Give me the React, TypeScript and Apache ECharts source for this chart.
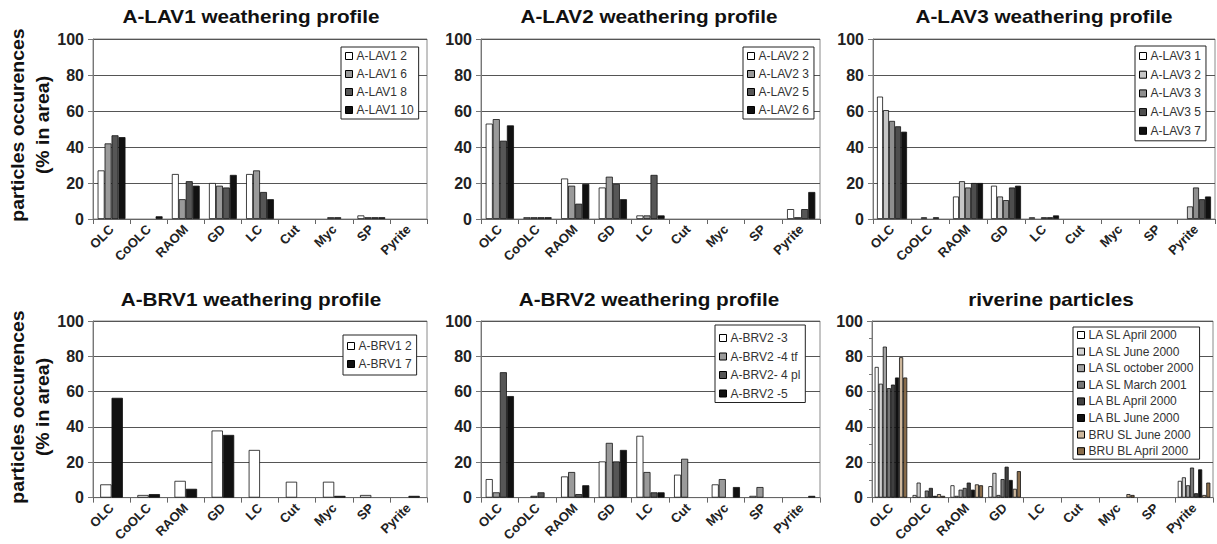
import React, { useEffect, useRef } from 'react';
import * as echarts from 'echarts';

const categories = ['OLC', 'CoOLC', 'RAOM', 'GD', 'LC', 'Cut', 'Myc', 'SP', 'Pyrite'];
const yMin = 0;
const yMax = 100;
const yStep = 20;

const titles = [
  'A-LAV1 weathering profile',
  'A-LAV2 weathering profile',
  'A-LAV3 weathering profile',
  'A-BRV1 weathering profile',
  'A-BRV2 weathering profile',
  'riverine particles',
];
const yAxisName = 'particles occurences\n(% in area)';

// A-LAV1
const lav1Names = ['A-LAV1 2', 'A-LAV1 6', 'A-LAV1 8', 'A-LAV1 10'];
const lav1_2 = [27, 0, 25, 20, 25, 0, 0, 2, 0];
const lav1_6 = [42, 0, 11, 18.5, 27, 0, 1, 1, 0];
const lav1_8 = [46.5, 0, 21, 17.5, 15, 0, 1, 1, 0];
const lav1_10 = [45.5, 1.5, 18.5, 24.5, 11, 0, 0, 1, 0];

// A-LAV2
const lav2Names = ['A-LAV2 2', 'A-LAV2 3', 'A-LAV2 5', 'A-LAV2 6'];
const lav2_2 = [53, 1, 22.5, 17.5, 2, 0, 0, 0, 5.5];
const lav2_3 = [55.5, 1, 18.5, 23.5, 2, 0, 0, 0, 1];
const lav2_5 = [43.5, 1, 8.5, 19.5, 24.5, 0, 0, 0, 5.5];
const lav2_6 = [52, 1, 19.5, 11, 2, 0, 0, 0, 15];

// A-LAV3
const lav3Names = ['A-LAV3 1', 'A-LAV3 2', 'A-LAV3 3', 'A-LAV3 5', 'A-LAV3 7'];
const lav3_1 = [68, 0, 12.5, 18.5, 1, 0, 0, 0, 0];
const lav3_2 = [60.5, 1, 21, 12.5, 0, 0, 0, 0, 7];
const lav3_3 = [54.5, 0, 17.5, 10.5, 1, 0, 0, 0, 17.5];
const lav3_5 = [51.5, 1, 20, 17.5, 1, 0, 0, 0, 11];
const lav3_7 = [48.5, 0, 20, 18.5, 2, 0, 0, 0, 12.5];

// A-BRV1
const brv1Names = ['A-BRV1 2', 'A-BRV1 7'];
const brv1_2 = [7.5, 1.5, 9.5, 38, 27, 9, 9, 1.5, 0];
const brv1_7 = [56.5, 2, 5, 35.5, 0, 0, 1, 0, 1];

// A-BRV2
const brv2Names = ['A-BRV2 -3', 'A-BRV2 -4 tf', 'A-BRV2- 4 pl', 'A-BRV2 -5'];
const brv2_3 = [10.5, 0, 12, 20.5, 35, 13, 7.5, 1, 0];
const brv2_4tf = [3, 1, 14.5, 31, 14.5, 22, 10.5, 6, 0];
const brv2_4pl = [71, 3, 2, 20.5, 3, 0, 0, 0, 0];
const brv2_5 = [57.5, 0, 7, 27, 3, 0, 6, 0, 1];

// riverine particles
const rivNames = [
  'LA SL April 2000',
  'LA SL June 2000',
  'LA SL october 2000',
  'LA SL March 2001',
  'LA BL April 2000',
  'LA BL June 2000',
  'BRU SL June 2000',
  'BRU BL April 2000',
];
const riv_slApr00 = [74, 1.5, 7, 6.5, 0, 0, 0, 0, 9.5];
const riv_slJun00 = [64.5, 8.5, 1, 14, 0, 0, 0, 0, 11.5];
const riv_slOct00 = [85.5, 0, 4.5, 1.5, 0, 0, 0, 0, 7];
const riv_slMar01 = [62, 4, 5.5, 10.5, 0, 0, 0, 0, 17];
const riv_blApr00 = [64, 5.5, 8.5, 17.5, 0, 0, 0, 0, 2.5];
const riv_blJun00 = [68, 1, 4.5, 10, 0, 0, 0, 0, 16];
const riv_bruSlJun00 = [79.5, 2, 7.5, 5, 0, 0, 2, 0, 1.5];
const riv_bruBlApr00 = [68, 1, 7, 15, 0, 0, 1.5, 0, 8.5];

const panelNames = [lav1Names, lav2Names, lav3Names, brv1Names, brv2Names, rivNames];
const panelValues = [
  [lav1_2, lav1_6, lav1_8, lav1_10],
  [lav2_2, lav2_3, lav2_5, lav2_6],
  [lav3_1, lav3_2, lav3_3, lav3_5, lav3_7],
  [brv1_2, brv1_7],
  [brv2_3, brv2_4tf, brv2_4pl, brv2_5],
  [riv_slApr00, riv_slJun00, riv_slOct00, riv_slMar01, riv_blApr00, riv_blJun00, riv_bruSlJun00, riv_bruBlApr00],
];

// styles
const gray4 = ['#ffffff', '#9a9a9a', '#565656', '#111111'];
const gray5 = ['#ffffff', '#c6c6c6', '#8e8e8e', '#4e4e4e', '#111111'];
const gray2 = ['#ffffff', '#111111'];
const rivColors = ['#ffffff', '#d2d2d2', '#a2a2a2', '#767676', '#404040', '#111111', '#cdb79c', '#8a6d4b'];
const panelColors = [gray4, gray4, gray5, gray2, gray4, rivColors];

const FONT = '"Liberation Sans", Arial, Helvetica, sans-serif';

const layout = [
  { grid: { left: 93, top: 39, width: 334, height: 180 }, tx: 251, ty: 17, lg: { left: 341, top: 47, itemGap: 6, padding: [3, 5, 3, 4] } },
  { grid: { left: 481, top: 39, width: 339, height: 180 }, tx: 649, ty: 17, lg: { left: 743, top: 47, itemGap: 6, padding: [3, 5, 3, 4] } },
  { grid: { left: 873, top: 39, width: 342, height: 180 }, tx: 1044, ty: 17, lg: { left: 1135, top: 46, itemGap: 6.7, padding: [4, 5, 4, 4] } },
  { grid: { left: 93, top: 321, width: 334, height: 180 }, tx: 251, ty: 300, lg: { left: 343, top: 335, itemGap: 6, padding: [5, 5, 5, 4] } },
  { grid: { left: 481, top: 321, width: 339, height: 180 }, tx: 649, ty: 300, lg: { left: 715, top: 325, itemGap: 6.5, padding: [7, 5, 3, 4] } },
  { grid: { left: 872, top: 321, width: 341, height: 180 }, tx: 1051, ty: 300, lg: { left: 1073, top: 327, itemGap: 4.6, padding: [2, 5, 2, 4] } },
];

function buildOption() {
  const grid: any[] = [];
  const xAxis: any[] = [];
  const yAxis: any[] = [];
  const legend: any[] = [];
  const series: any[] = [];
  const graphic: any[] = [];

  layout.forEach((L, i) => {
    grid.push({ ...L.grid, show: true, borderColor: '#8a8a8a', borderWidth: 1, backgroundColor: 'transparent' });
    xAxis.push({
      type: 'category',
      gridIndex: i,
      data: categories,
      axisLine: { lineStyle: { color: '#666', width: 1 } },
      axisTick: { show: true, length: 5, lineStyle: { color: '#666' } },
      axisLabel: { rotate: 45, interval: 0, fontSize: 13, fontWeight: 'bold', color: '#222', fontFamily: FONT, margin: 8 },
    });
    yAxis.push({
      type: 'value',
      gridIndex: i,
      min: yMin,
      max: yMax,
      interval: yStep,
      axisLine: { show: true, lineStyle: { color: '#777' } },
      axisTick: { show: true, length: 5, lineStyle: { color: '#777' } },
      minorTick: i === 5 ? { show: true, splitNumber: 2, length: 3, lineStyle: { color: '#777' } } : { show: false },
      splitLine: { show: true, lineStyle: { color: '#555', width: 1 } },
      axisLabel: { fontSize: 16, fontWeight: 'bold', color: '#222', fontFamily: FONT, margin: 9 },
    });
    const names = panelNames[i];
    const n = names.length;
    const gapPct = Math.round((1.3 / (n + 1.3)) * 100) + '%';
    legend.push({
      orient: 'vertical',
      left: L.lg.left,
      top: L.lg.top,
      data: names,
      icon: 'rect',
      itemWidth: 7,
      itemHeight: 7,
      itemGap: L.lg.itemGap,
      padding: L.lg.padding,
      borderColor: '#222',
      borderWidth: 1,
      borderRadius: 0,
      backgroundColor: '#fff',
      selectedMode: false,
      itemStyle: { borderColor: '#000', borderWidth: 1 },
      textStyle: { fontSize: 12, color: '#333', fontFamily: FONT, lineHeight: 12, padding: [0, 0, 0, -1] },
    });
    names.forEach((name, j) => {
      series.push({
        type: 'bar',
        name,
        xAxisIndex: i,
        yAxisIndex: i,
        data: panelValues[i][j].map((v) => (v === 0 ? '-' : v)),
        barGap: '0%',
        barCategoryGap: gapPct,
        itemStyle: { color: panelColors[i][j], borderColor: '#111', borderWidth: 0.8 },
        emphasis: { disabled: true },
      });
    });
    graphic.push({
      type: 'text',
      x: L.tx,
      y: L.ty,
      scaleX: 1.15,
      style: {
        text: titles[i],
        font: `bold 18px ${FONT}`,
        fill: '#111',
        align: 'center',
        verticalAlign: 'middle',
        textAlign: 'center',
        textVerticalAlign: 'middle',
      },
    });
  });

  [125, 407].forEach((cy) => {
    graphic.push({
      type: 'text',
      x: 30,
      y: cy,
      rotation: Math.PI / 2,
      scaleX: 1.08,
      style: {
        text: yAxisName,
        font: `bold 18px ${FONT}`,
        lineHeight: 25,
        fill: '#111',
        align: 'center',
        verticalAlign: 'middle',
        textAlign: 'center',
        textVerticalAlign: 'middle',
      },
    });
  });

  return {
    animation: false,
    backgroundColor: '#ffffff',
    grid,
    xAxis,
    yAxis,
    legend,
    series,
    graphic,
  };
}

export default function App() {
  const ref = useRef<HTMLDivElement | null>(null);
  useEffect(() => {
    if (!ref.current) return;
    const chart = echarts.init(ref.current, undefined, { renderer: 'svg' });
    chart.setOption(buildOption() as any);
    return () => chart.dispose();
  }, []);
  return (
    <div
      ref={ref}
      style={{ position: 'fixed', left: 0, top: 0, width: 1217, height: 544, background: '#fff' }}
    />
  );
}
